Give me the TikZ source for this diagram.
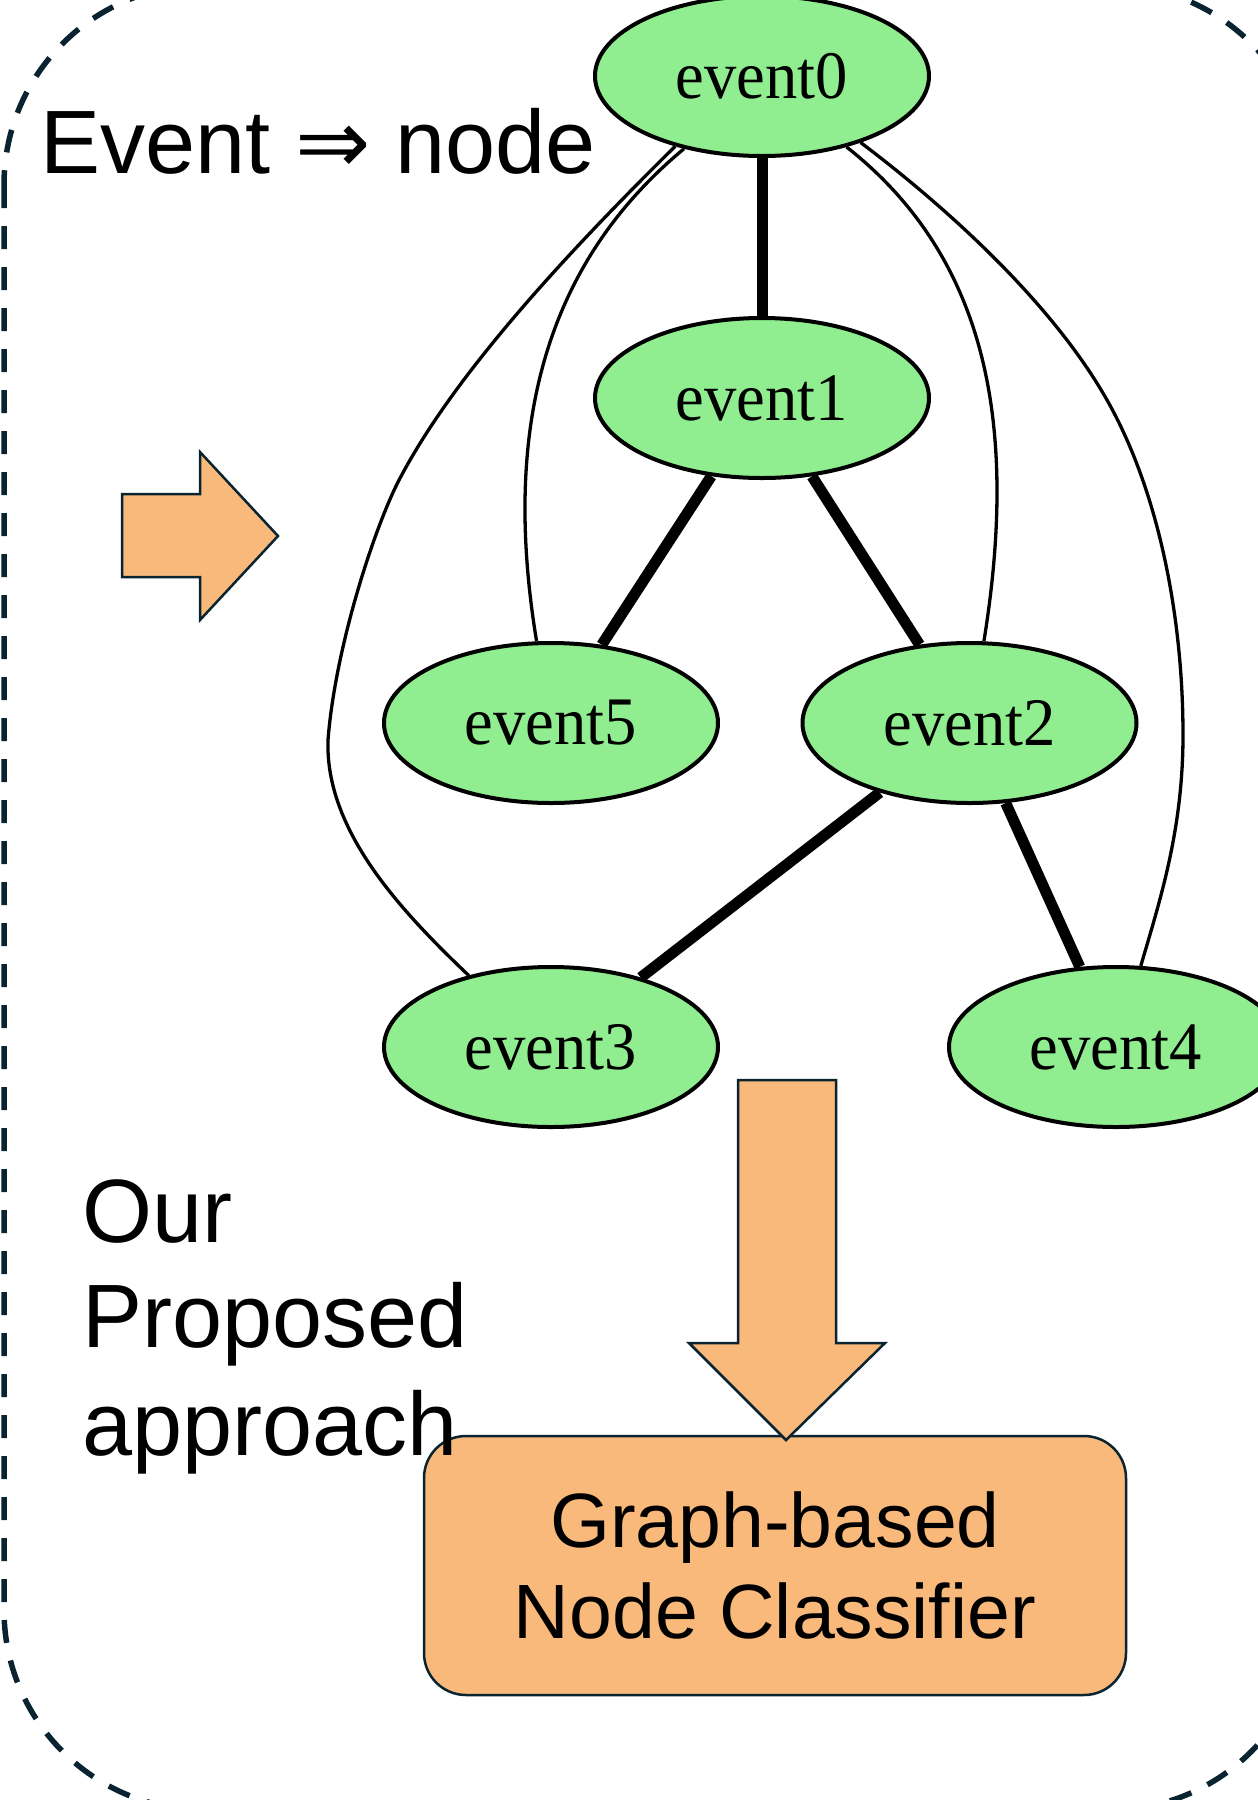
\documentclass[tikz,border=0pt]{standalone}
\usepackage{fontspec}
\usetikzlibrary{shapes.geometric}
\newfontfamily\arialf{Liberation Sans}
\newfontfamily\timesf[FakeStretch=0.95]{Liberation Serif}
\newfontfamily\dejavuf{DejaVu Sans}
\definecolor{navy}{RGB}{10,35,48}
\definecolor{evgreen}{RGB}{144,238,144}
\definecolor{boxorange}{RGB}{249,185,122}
\begin{document}
\begin{tikzpicture}[x=1pt,y=-1pt,
  ev/.style={ellipse, draw=black, line width=4pt, fill=evgreen, minimum width=334pt, minimum height=160pt, inner sep=0pt, font=\timesf\fontsize{68}{80}\selectfont},
  thickedge/.style={line width=11pt},
  thinedge/.style={line width=3.3pt},
  blockarrow/.style={draw=navy, line width=2.5pt, fill=boxorange, line join=miter},
  bigtext/.style={font=\arialf\fontsize{90}{107}\selectfont, inner sep=0pt, anchor=base west}
]
\useasboundingbox (0,0) rectangle (1258,1800);
\fill[white] (0,0) rectangle (1258,1800);
\draw[navy, line width=5.5pt, dash pattern=on 23pt off 18pt, rounded corners=200pt] (4,-15) rectangle (1310,1810);

% graph nodes
\node[ev] (e0) at (762,76) {event0};
\node[ev] (e1) at (762,398) {event1};
\node[ev] (e5) at (551,723) {event5};
\node[ev] (e2) at (969.5,723) {event2};
\node[ev] (e3) at (551,1047) {event3};
\node[ev] (e4) at (1116,1047) {event4};

% thick edges
\draw[thickedge] (e0) -- (e1);
\draw[thickedge] (e1) -- (e5);
\draw[thickedge] (e1) -- (e2);
\draw[thickedge] (e2) -- (e3);
\draw[thickedge] (e2) -- (e4);

% thin curved edges
\draw[thinedge] (e0.219) .. controls (560,260) and (450,380) .. (397,484)
  .. controls (372,535) and (335,650) .. (328,740)
  .. controls (325,830) and (400,910) .. (e3.139);
\draw[thinedge] (e0.223) .. controls (550,260) and (500,420) .. (e5.100);
\draw[thinedge] (e0.320) .. controls (990,260) and (1018,430) .. (e2.80);
\draw[thinedge] (e0.326) .. controls (950,210) and (1060,310) .. (1113,411)
  .. controls (1160,500) and (1183,620) .. (1183,735)
  .. controls (1183,830) and (1160,900) .. (e4.73);

% title
\node[bigtext] (title) at (40,173) {Event {\dejavuf ⇒} node};

% right block arrow
\draw[blockarrow] (122,494) -- (200,494) -- (200,452) -- (278,536) -- (200,620) -- (200,577) -- (122,577) -- cycle;

% classifier box
\node[draw=navy, line width=2.5pt, fill=boxorange, rounded corners=42pt, minimum width=702pt, minimum height=259pt, align=center, font=\arialf\fontsize{77}{91}\selectfont, inner sep=0pt] (clf) at (775,1565.5) {Graph-based\\Node Classifier};

% down block arrow
\draw[blockarrow] (738,1080) -- (836,1080) -- (836,1343) -- (885,1343) -- (786,1440) -- (689,1343) -- (738,1343) -- cycle;

% side text
\node[bigtext] (our1) at (82,1242) {Our};
\node[bigtext] (our2) at (82,1347) {Proposed};
\node[bigtext] (our3) at (82,1455) {approach};
\end{tikzpicture}
\end{document}
